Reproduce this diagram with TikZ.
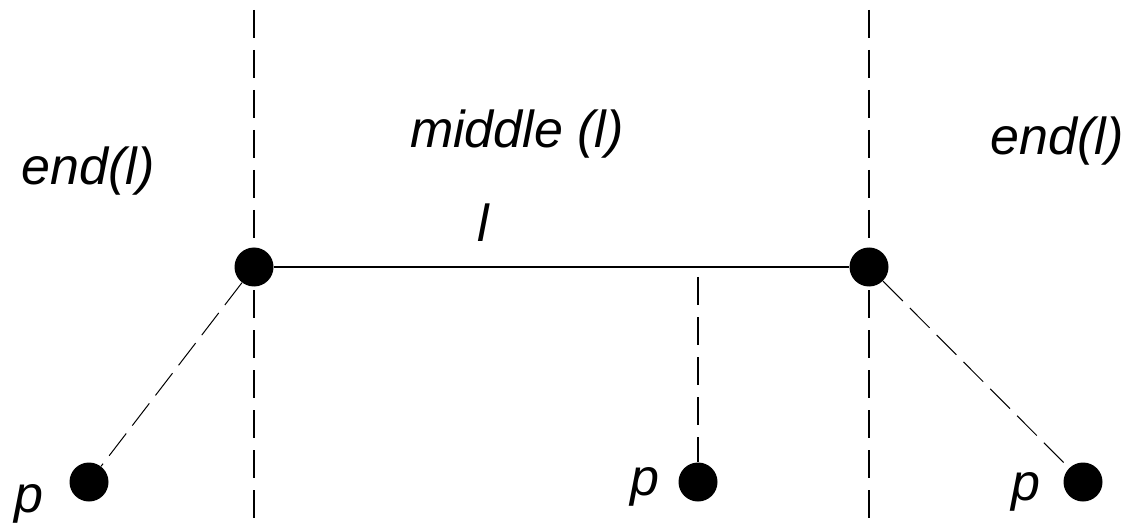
\documentclass[tikz,border=0pt]{standalone}
\usepackage{fontspec}
\setmainfont{Liberation Sans}
\begin{document}
\begin{tikzpicture}[x=.5pt,y=-.5pt,
  dot/.style={circle,fill=black,inner sep=0pt,minimum size=19.5pt},
  lbl/.style={font=\fontsize{26}{30}\selectfont\itshape,anchor=base,inner sep=0pt},
  guide/.style={line width=1pt,dash pattern=on 14pt off 6pt},
  reach/.style={line width=.5pt,dash pattern=on 14pt off 5pt}]
  \useasboundingbox (0,0) rectangle (1127,523);
  % region borders
  \coordinate (topA) at (254,10); \coordinate (botA) at (254,518);
  \coordinate (topB) at (869,10); \coordinate (botB) at (869,518);
  \draw[guide] (topA)--(botA); \draw[guide] (topB)--(botB);
  % segment and points
  \node[dot] (endA) at (254,267) {}; \node[dot] (endB) at (869,267) {};
  \draw[line width=1pt] (endA)--(endB);
  \node[dot] (projA) at (89,482) {}; \node[dot] (projM) at (698,482) {};
  \node[dot] (projB) at (1083,482) {};
  \coordinate (foot) at (698,277);
  \draw[reach] (endA)--(projA); \draw[reach] (endB)--(projB);
  \draw[guide] (foot)--(projM);
  % labels
  \node[lbl] (endlblA) at (88,185) {end(l)};
  \node[lbl] (midlbl) at (517,148) {middle (l)};
  \node[lbl] (endlblB) at (1057,155) {end(l)};
  \node[lbl] (seglbl) at (483,242) {l};
  \node[lbl] (plblA) at (29,512) {p}; \node[lbl] (plblM) at (645,495) {p};
  \node[lbl] (plblB) at (1026,500) {p};
\end{tikzpicture}
\end{document}
